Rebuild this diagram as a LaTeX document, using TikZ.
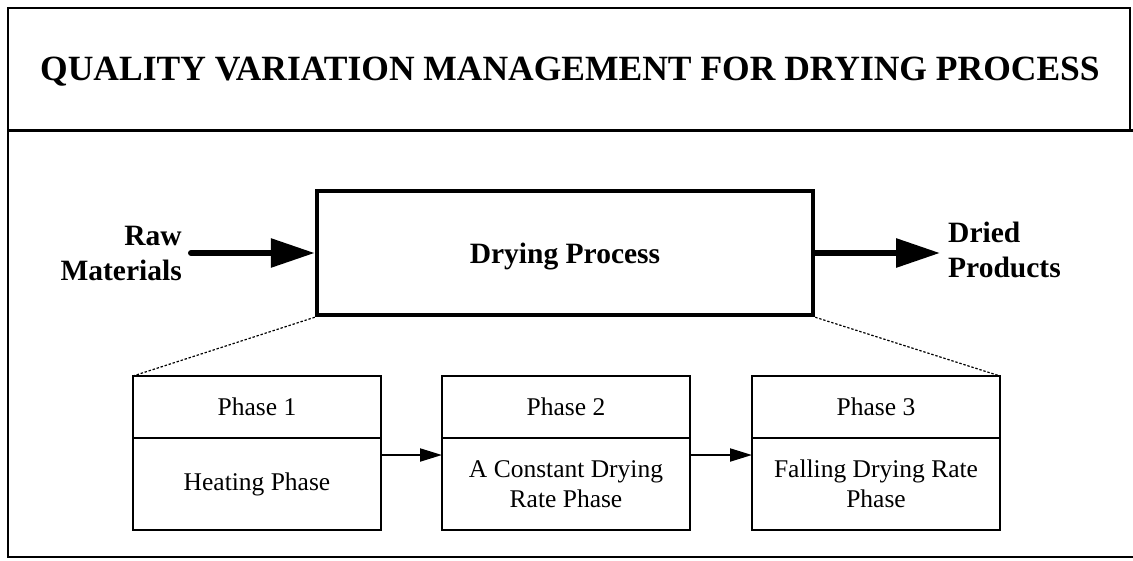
\documentclass[tikz,border=0pt]{standalone}
\usepackage{fontspec}
\setmainfont{Liberation Serif}
\usetikzlibrary{arrows.meta}
\begin{document}
\begin{tikzpicture}[x=1pt,y=-1pt,
  frame/.style={line width=2.6pt},
  bigarrow/.style={line width=6pt,-{Triangle[length=44pt,width=28pt]}},
  smallarrow/.style={line width=2pt,-{Triangle[length=22pt,width=13pt]}},
  zoomline/.style={line width=1.2pt,dash pattern=on 2.4pt off 1.8pt},
  phasehead/.style={draw,line width=2pt,minimum width=248pt,minimum height=62pt,
    inner sep=0pt,outer sep=0pt,font=\fontsize{25.5}{30}\selectfont},
  phasebody/.style={draw,line width=2pt,minimum width=248pt,minimum height=92pt,
    inner sep=0pt,outer sep=0pt,align=center,font=\fontsize{25.5}{30}\selectfont,anchor=north},
  boldlabel/.style={font=\bfseries\fontsize{29.5}{35}\selectfont,inner sep=0pt}]
\useasboundingbox (0,0) rectangle (1133,560);
\fill[white] (0,0) rectangle (1133,560);

% outer frame: title strip and lower panel
\draw[frame] (8,8) rectangle (1130,130);
\draw[line width=3pt] (8,130) -- (1133,130);
\draw[frame] (1133,557) -- (8,557) -- (8,130);

\node (title) at (570,69) [font=\bfseries\fontsize{35.5}{40}\selectfont,text depth=0pt,inner sep=0pt]
  {QUALITY VARIATION MANAGEMENT FOR DRYING PROCESS};

% main process
\node (dry) at (565,253) [draw,line width=4.5pt,minimum width=496pt,minimum height=124pt,
  text depth=0pt,font=\bfseries\fontsize{29.5}{35}\selectfont] {Drying Process};

\node (raw) [boldlabel,align=right,anchor=base east] at (182,280) {Raw\\Materials};
\node (dried) [boldlabel,align=left,anchor=base west] at (948,277) {Dried\\Products};

\coordinate (rawstart) at (191,253);
\coordinate (driedend) at (940,253);
\draw[bigarrow,line cap=round] (rawstart) -- (dry.west);
\draw[bigarrow] (dry.east) -- (driedend);

% the three drying phases
\node (p1t) [phasehead] at (257,407) {Phase 1};
\node (p1b) [phasebody] at (p1t.south) {Heating Phase};
\node (p2t) [phasehead] at (566,407) {Phase 2};
\node (p2b) [phasebody] at (p2t.south) {A Constant Drying\\Rate Phase};
\node (p3t) [phasehead] at (876,407) {Phase 3};
\node (p3b) [phasebody] at (p3t.south) {Falling Drying Rate\\Phase};

\draw[smallarrow] ([yshift=29pt]p1b.east) -- ([yshift=29pt]p2b.west);
\draw[smallarrow] ([yshift=29pt]p2b.east) -- ([yshift=29pt]p3b.west);

% expansion lines from the process box to the phases
\draw[zoomline] (dry.south west) -- (p1t.north west);
\draw[zoomline] (dry.south east) -- (p3t.north east);
\end{tikzpicture}
\end{document}
